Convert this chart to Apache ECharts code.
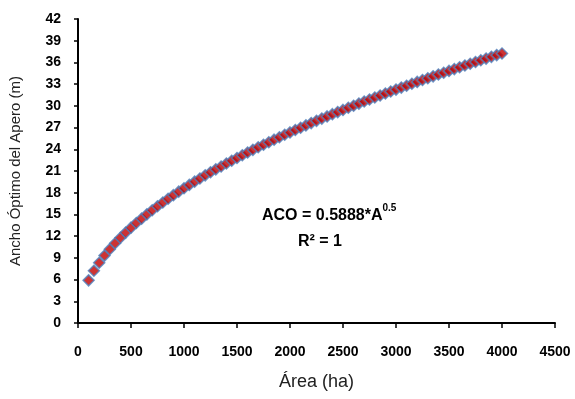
<!DOCTYPE html>
<html>
<head>
<meta charset="utf-8">
<script src="https://cdn.jsdelivr.net/npm/echarts@6/dist/echarts.min.js"></script>
<style>
  html, body {margin: 0; padding: 0; background: #fff;}
  #chart {width: 575px; height: 399px;}
</style>
</head>
<body>
<div id="chart"></div>
<script>
// area (ha)
var areas = [100, 150, 200, 250, 300, 350, 400, 450, 500, 550, 600, 650, 700, 750, 800, 850, 900, 950,
    1000, 1050, 1100, 1150, 1200, 1250, 1300, 1350, 1400, 1450, 1500, 1550, 1600, 1650, 1700, 1750, 1800,
    1850, 1900, 1950, 2000, 2050, 2100, 2150, 2200, 2250, 2300, 2350, 2400, 2450, 2500, 2550, 2600, 2650,
    2700, 2750, 2800, 2850, 2900, 2950, 3000, 3050, 3100, 3150, 3200, 3250, 3300, 3350, 3400, 3450, 3500,
    3550, 3600, 3650, 3700, 3750, 3800, 3850, 3900, 3950, 4000];
// ancho optimo (m)
var anchos = [5.89, 7.21, 8.33, 9.31, 10.20, 11.02, 11.78, 12.49, 13.17, 13.81, 14.42, 15.01, 15.58, 16.13,
    16.65, 17.17, 17.66, 18.15, 18.62, 19.08, 19.53, 19.97, 20.40, 20.82, 21.23, 21.63, 22.03, 22.42, 22.80,
    23.18, 23.55, 23.92, 24.28, 24.63, 24.98, 25.33, 25.67, 26.00, 26.33, 26.66, 26.98, 27.30, 27.62, 27.93,
    28.24, 28.54, 28.85, 29.14, 29.44, 29.73, 30.02, 30.31, 30.60, 30.88, 31.16, 31.43, 31.71, 31.98, 32.25,
    32.52, 32.78, 33.05, 33.31, 33.57, 33.82, 34.08, 34.33, 34.58, 34.83, 35.08, 35.33, 35.57, 35.82, 36.06,
    36.30, 36.53, 36.77, 37.01, 37.24];

var points = areas.map(function (a, i) { return [a, anchos[i]]; });

var myChart = echarts.init(document.getElementById('chart'));
var fam = '"Liberation Sans", Arial, sans-serif';
myChart.setOption({
    animation: false,
    grid: {left: 73, right: 20, top: 19, bottom: 76},
    xAxis: {
        type: 'value', min: 0, max: 4500, interval: 500,
        name: 'Área (ha)', nameLocation: 'middle', nameGap: 50,
        nameTextStyle: {color: '#222', fontSize: 18, fontFamily: fam},
        axisLine: {show: true, lineStyle: {color: '#000', width: 2}},
        axisTick: {show: true, length: 5, lineStyle: {color: '#000', width: 1.5}},
        axisLabel: {
            margin: 22, color: '#000', fontWeight: 900, fontSize: 14, fontFamily: fam,
            formatter: function (v) { return String(v); }
        },
        splitLine: {show: false}
    },
    yAxis: {
        type: 'value', min: 0, max: 42, interval: 3,
        name: 'Ancho Óptimo del Apero (m)', nameLocation: 'middle', nameGap: 55,
        nameTextStyle: {color: '#222', fontSize: 15, fontFamily: fam},
        axisLine: {show: true, lineStyle: {color: '#000', width: 2}},
        axisTick: {show: true, length: 4, lineStyle: {color: '#000', width: 1.5}},
        axisLabel: {
            margin: 17, color: '#000', fontWeight: 900, fontSize: 14, fontFamily: fam,
            formatter: function (v) { return String(v); }
        },
        splitLine: {show: false}
    },
    series: [{
        type: 'scatter',
        data: points,
        symbol: 'diamond',
        symbolSize: 11,
        itemStyle: {color: '#c00000', borderColor: '#4f81bd', borderWidth: 1.5}
    }],
    graphic: [{
        type: 'text', left: 262, top: 203,
        style: {
            text: '{b|ACO = 0.5888*A}{s|0.5}\n{c|R² = 1}',
            rich: {
                b: {fontSize: 16, fontWeight: 700, fill: '#000', fontFamily: fam, lineHeight: 26},
                s: {fontSize: 10, fontWeight: 700, fill: '#000', fontFamily: fam, verticalAlign: 'top', padding: [0, 0, 8, 0]},
                c: {fontSize: 16, fontWeight: 700, fill: '#000', fontFamily: fam, padding: [0, 0, 0, 36], lineHeight: 26}
            }
        }
    }]
});
</script>
</body>
</html>
